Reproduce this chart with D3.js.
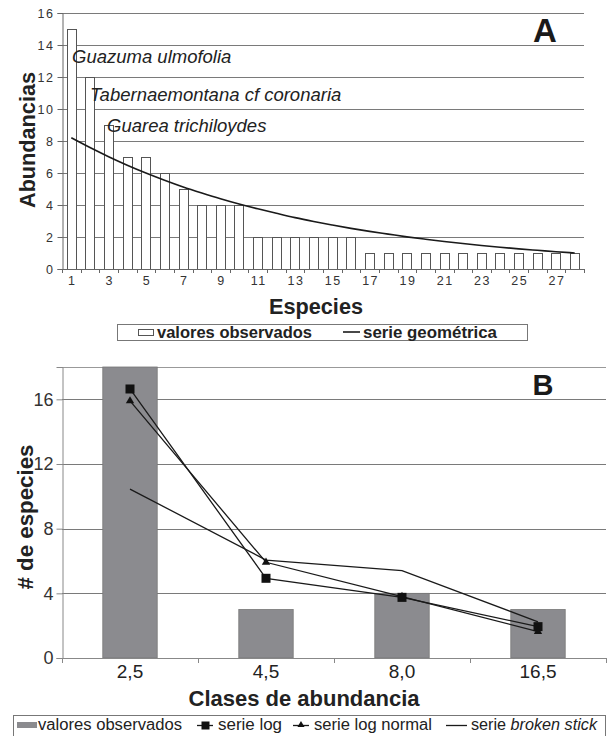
<!DOCTYPE html>
<html><head><meta charset="utf-8">
<script src="https://cdn.jsdelivr.net/npm/d3@7"></script>
<style>
html,body{margin:0;padding:0;background:#fff;}
svg{display:block;font-family:"Liberation Sans",Arial,Helvetica,sans-serif;}
</style></head>
<body>
<svg id="chart" width="608" height="736"></svg>
<script>
// ---------- Panel A data ----------
const species = [1,2,3,4,5,6,7,8,9,10,11,12,13,14,15,16,17,18,19,20,21,22,23,24,25,26,27,28];
const abundances = [15,12,9,7,7,6,5,4,4,4,2,2,2,2,2,2,1,1,1,1,1,1,1,1,1,1,1,1];
const geometricSeries = [8.20,7.59,7.02,6.49,6.00,5.55,5.13,4.75,4.39,4.06,3.76,3.48,3.21,2.97,2.75,2.54,2.35,2.18,2.01,1.86,1.72,1.59,1.47,1.36,1.26,1.17,1.08,1.00];
const yTicksA = [0,2,4,6,8,10,12,14,16];
const xTickLabelsA = [1,3,5,7,9,11,13,15,17,19,21,23,25,27];
const annotationsA = [
  {species:1, parts:[["Guazuma ulmofolia","italic"]]},
  {species:2, parts:[["Tabernaemontana","italic"],[" cf ","italic"],["coronaria","italic"]]},
  {species:3, parts:[["Guarea trichiloydes","italic"]]}
];

// ---------- Panel B data ----------
const classes = ["2,5","4,5","8,0","16,5"];
const observedB = [18,3,4,3];
const serieLog = [16.64,4.93,3.75,1.94];
const serieLogNormal = [15.9,5.92,3.8,1.63];
const serieBrokenStick = [10.45,6.06,5.4,2.24];
const yTicksB = [0,4,8,12,16];

const svg = d3.select("#chart");
const txt = "#222", grid = "#7a7a7a";

// ================= Panel A =================
const A = {left:62, right:584, top:13, bottom:269};
const xA = d3.scaleBand().domain(species).range([A.left, A.right]).paddingInner(0.5).paddingOuter(0.25);
const yA = d3.scaleLinear().domain([0,16]).range([A.bottom, A.top]);

const gA = svg.append("g");
// gridlines
gA.selectAll("line.grid").data(yTicksA.filter(d=>d>0)).join("line")
  .attr("x1",A.left).attr("x2",A.right)
  .attr("y1",d=>yA(d)+0.5).attr("y2",d=>yA(d)+0.5)
  .attr("stroke",grid).attr("stroke-width",1);

// bars
gA.selectAll("rect.bar").data(abundances).join("rect")
  .attr("x",(d,i)=>Math.round(xA(species[i]))+0.5)
  .attr("y",d=>yA(d)+0.5)
  .attr("width",Math.round(xA.bandwidth()))
  .attr("height",d=>A.bottom-yA(d))
  .attr("fill","#fff").attr("stroke","#555").attr("stroke-width",1);

// geometric line
const lineA = d3.line().x((d,i)=>xA(species[i])+xA.bandwidth()/2).y(d=>yA(d)).curve(d3.curveMonotoneX);
gA.append("path").datum(geometricSeries).attr("d",lineA)
  .attr("fill","none").attr("stroke","#1a1a1a").attr("stroke-width",1.6);

// y axis
const yAxisA = d3.axisLeft(yA).tickValues(yTicksA).tickSize(5).tickPadding(3);
const yaA = gA.append("g").attr("transform",`translate(${A.left+0.5},0)`).call(yAxisA);
yaA.select(".domain").attr("stroke","#666");
yaA.selectAll(".tick line").attr("stroke","#666");
yaA.selectAll(".tick text").attr("font-size",12.5).attr("fill","#333")
  .attr("letter-spacing","1.5px").attr("font-family","Liberation Sans, Arial, sans-serif");

// x axis: ticks at every band boundary, labels at odd species
const xAxisG = gA.append("g");
xAxisG.append("line").attr("x1",A.left).attr("x2",A.right).attr("y1",A.bottom+0.5).attr("y2",A.bottom+0.5).attr("stroke","#666");
const boundaries = species.map(s=>xA(s)-xA.step()*xA.paddingInner()/2);
boundaries.push(A.right);
xAxisG.selectAll("line.tk").data(boundaries).join("line")
  .attr("x1",d=>Math.round(d)+0.5).attr("x2",d=>Math.round(d)+0.5)
  .attr("y1",A.bottom).attr("y2",A.bottom+4).attr("stroke","#666");
xAxisG.selectAll("text").data(xTickLabelsA).join("text")
  .attr("x",d=>xA(d)+xA.bandwidth()/2+1).attr("y",285)
  .attr("text-anchor","middle").attr("font-size",12.5).attr("fill","#333")
  .attr("letter-spacing","1.5px").text(d=>d);

// annotations
annotationsA.forEach((a,k)=>{
  const pos = [[72,63],[90,101],[107,132]][k];
  const t = gA.append("text").attr("x",pos[0]).attr("y",pos[1]).attr("font-size",18.5).attr("fill",txt);
  a.parts.forEach(p=>t.append("tspan").attr("font-style",p[1]).text(p[0]));
});

// panel letter
gA.append("text").attr("x",545).attr("y",42).attr("text-anchor","middle")
  .attr("font-size",33).attr("font-weight","bold").attr("fill","#1a1a1a").text("A");

// axis titles
gA.append("text").attr("x",316).attr("y",314).attr("text-anchor","middle")
  .attr("font-size",22).attr("font-weight","bold").attr("fill",txt)
  .attr("textLength",94).attr("lengthAdjust","spacingAndGlyphs").text("Especies");
gA.append("text").attr("transform","translate(35,140) rotate(-90)").attr("text-anchor","middle")
  .attr("font-size",22).attr("font-weight","bold").attr("fill",txt)
  .attr("textLength",136).attr("lengthAdjust","spacingAndGlyphs").text("Abundancias");

// legend A
const legA = gA.append("g");
legA.append("rect").attr("x",117.5).attr("y",324.5).attr("width",410).attr("height",16)
  .attr("fill","#fff").attr("stroke","#777");
legA.append("rect").attr("x",138.5).attr("y",329.5).attr("width",15).attr("height",6)
  .attr("fill","#fff").attr("stroke","#555");
legA.append("text").attr("x",157).attr("y",337.5).attr("font-size",16).attr("font-weight","bold").attr("fill",txt)
  .attr("textLength",155).attr("lengthAdjust","spacingAndGlyphs").text("valores observados");
legA.append("line").attr("x1",343).attr("x2",360).attr("y1",332).attr("y2",332).attr("stroke","#1a1a1a").attr("stroke-width",1.6);
legA.append("text").attr("x",363).attr("y",337.5).attr("font-size",16).attr("font-weight","bold").attr("fill",txt)
  .attr("textLength",134).attr("lengthAdjust","spacingAndGlyphs").text("serie geométrica");

// ================= Panel B =================
const B = {left:62, right:606, top:367, bottom:658};
const xB = d3.scaleBand().domain(classes).range([B.left, B.right]).paddingInner(0.6).paddingOuter(0.3);
const yB = d3.scaleLinear().domain([0,18]).range([B.bottom, B.top]);
const cx = c => xB(c)+xB.bandwidth()/2;

const gB = svg.append("g");
// top border & gridlines
gB.append("line").attr("x1",B.left).attr("x2",B.right).attr("y1",B.top+0.5).attr("y2",B.top+0.5).attr("stroke","#999");
gB.selectAll("line.grid").data(yTicksB.filter(d=>d>0)).join("line")
  .attr("x1",B.left).attr("x2",B.right)
  .attr("y1",d=>Math.round(yB(d))+0.5).attr("y2",d=>Math.round(yB(d))+0.5)
  .attr("stroke",grid).attr("stroke-width",1);

// bars
gB.selectAll("rect.bar").data(observedB).join("rect")
  .attr("x",(d,i)=>xB(classes[i]))
  .attr("y",d=>yB(d))
  .attr("width",xB.bandwidth())
  .attr("height",d=>B.bottom-yB(d))
  .attr("fill","#8b8b8f").attr("stroke","#777").attr("stroke-width",0.8);

// lines
const lineB = d3.line().x((d,i)=>cx(classes[i])).y(d=>yB(d));
[serieBrokenStick, serieLogNormal, serieLog].forEach(s=>{
  gB.append("path").datum(s).attr("d",lineB).attr("fill","none").attr("stroke","#1a1a1a").attr("stroke-width",1.3);
});
// markers
gB.selectAll("rect.sq").data(serieLog).join("rect")
  .attr("x",(d,i)=>cx(classes[i])-4.5).attr("y",d=>yB(d)-4.5)
  .attr("width",9).attr("height",9).attr("fill","#111");
const tri = d3.symbol().type(d3.symbolTriangle).size(30);
gB.selectAll("path.tri").data(serieLogNormal).join("path")
  .attr("d",tri).attr("transform",(d,i)=>`translate(${cx(classes[i])},${yB(d)})`).attr("fill","#111");

// y axis
const yaB = gB.append("g").attr("transform",`translate(${B.left+0.5},0)`)
  .call(d3.axisLeft(yB).tickValues(yTicksB).tickSize(6).tickPadding(3));
yaB.select(".domain").attr("stroke","#888");
yaB.selectAll(".tick line").attr("stroke","#888");
yaB.selectAll(".tick text").attr("font-size",18).attr("fill","#333").attr("font-family","Liberation Sans, Arial, sans-serif");

// x axis
const xgB = gB.append("g");
xgB.append("line").attr("x1",B.left).attr("x2",B.right).attr("y1",B.bottom+0.5).attr("y2",B.bottom+0.5).attr("stroke","#888");
const bB = classes.map(c=>xB(c)-xB.step()*xB.paddingInner()/2).concat([B.right-0.5]);
xgB.selectAll("line.tk").data(bB).join("line")
  .attr("x1",d=>Math.round(d)+0.5).attr("x2",d=>Math.round(d)+0.5)
  .attr("y1",B.bottom).attr("y2",B.bottom+5).attr("stroke","#888");
xgB.selectAll("text").data(classes).join("text")
  .attr("x",d=>cx(d)).attr("y",678).attr("text-anchor","middle")
  .attr("font-size",19).attr("fill","#222").text(d=>d);

// panel letter
gB.append("text").attr("x",543).attr("y",395).attr("text-anchor","middle")
  .attr("font-size",29).attr("font-weight","bold").attr("fill","#1a1a1a").text("B");

// axis titles
gB.append("text").attr("x",304).attr("y",706).attr("text-anchor","middle")
  .attr("font-size",22).attr("font-weight","bold").attr("fill",txt)
  .attr("textLength",231).attr("lengthAdjust","spacingAndGlyphs").text("Clases de abundancia");
gB.append("text").attr("transform","translate(33,517) rotate(-90)").attr("text-anchor","middle")
  .attr("font-size",22).attr("font-weight","bold").attr("fill",txt)
  .attr("textLength",145).attr("lengthAdjust","spacingAndGlyphs").text("# de especies");

// legend B
const legB = gB.append("g");
legB.append("rect").attr("x",13.5).attr("y",715.5).attr("width",592).attr("height",24)
  .attr("fill","#fff").attr("stroke","#777");
legB.append("rect").attr("x",17).attr("y",722).attr("width",20).attr("height",6).attr("fill","#8b8b8f");
legB.append("text").attr("x",38).attr("y",730).attr("font-size",16).attr("fill",txt)
  .attr("textLength",144).attr("lengthAdjust","spacingAndGlyphs").text("valores observados");
legB.append("line").attr("x1",197).attr("x2",213).attr("y1",725.5).attr("y2",725.5).attr("stroke","#1a1a1a").attr("stroke-width",1.3);
legB.append("rect").attr("x",201.5).attr("y",721.5).attr("width",8).attr("height",8).attr("fill","#111");
legB.append("text").attr("x",218).attr("y",730).attr("font-size",16).attr("fill",txt)
  .attr("textLength",64).attr("lengthAdjust","spacingAndGlyphs").text("serie log");
legB.append("line").attr("x1",293).attr("x2",309).attr("y1",725.5).attr("y2",725.5).attr("stroke","#1a1a1a").attr("stroke-width",1.3);
legB.append("path").attr("d",d3.symbol().type(d3.symbolTriangle).size(22)).attr("transform","translate(301,725)").attr("fill","#111");
legB.append("text").attr("x",314).attr("y",730).attr("font-size",16).attr("fill",txt)
  .attr("textLength",118).attr("lengthAdjust","spacingAndGlyphs").text("serie log normal");
legB.append("line").attr("x1",446).attr("x2",467).attr("y1",725.5).attr("y2",725.5).attr("stroke","#1a1a1a").attr("stroke-width",1.3);
const tb = legB.append("text").attr("x",471).attr("y",730).attr("font-size",16).attr("fill",txt)
  .attr("textLength",126).attr("lengthAdjust","spacingAndGlyphs");
tb.append("tspan").text("serie ");
tb.append("tspan").attr("font-style","italic").text("broken stick");
</script>
</body></html>
